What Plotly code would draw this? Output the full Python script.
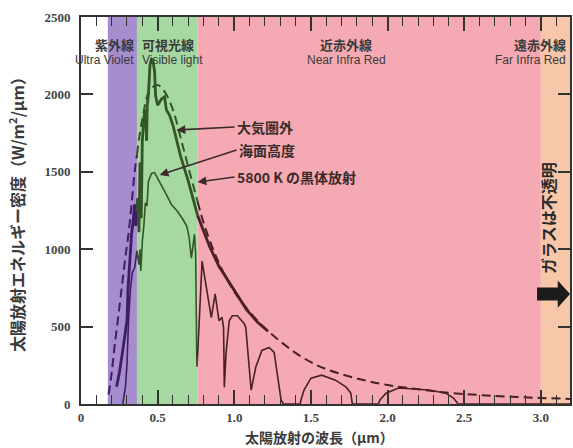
import plotly.graph_objects as go

# ---------------- data ----------------
# wavelength in micrometres, spectral irradiance in W/m2/um
bb_wl = [0.18, 0.20, 0.22, 0.25, 0.286, 0.31, 0.33, 0.35, 0.365, 0.40, 0.45, 0.50,
         0.55, 0.60, 0.65, 0.70, 0.76, 0.80, 0.85, 0.90, 0.95, 1.00, 1.10, 1.20,
         1.30, 1.40, 1.50, 1.60, 1.80, 2.00, 2.20, 2.40, 2.60, 2.80, 3.00, 3.19]
bb_val = [60, 200, 380, 620, 920, 1100, 1290, 1500, 1610, 1840, 2030, 2060,
          2010, 1900, 1720, 1530, 1310, 1170, 1030, 910, 810, 725, 595, 490,
          405, 330, 270, 225, 165, 123, 95, 72, 58, 47, 39, 33]

space_wl = [0.232, 0.25, 0.27, 0.29, 0.30, 0.307, 0.32, 0.33, 0.34, 0.35, 0.357, 0.365,
            0.37, 0.378, 0.385, 0.393, 0.40, 0.41, 0.42, 0.428, 0.432, 0.44, 0.45,
            0.46, 0.47, 0.48, 0.487, 0.50, 0.51, 0.525, 0.545, 0.557, 0.578, 0.60,
            0.65, 0.70, 0.76, 0.80, 0.84, 0.90, 0.97, 1.00, 1.08, 1.15, 1.22]
space_val = [111, 200, 330, 470, 540, 750, 970, 1100, 1180, 1290, 1150, 1250,
             1330, 1110, 1560, 1200, 1700, 1850, 1900, 1700, 1930, 2000, 2190,
             2230, 2215, 2150, 1990, 1930, 1950, 1970, 1985, 1900, 1865, 1800,
             1600, 1440, 1220, 1110, 1014, 890, 782, 740, 610, 530, 470]

sea_wl = [0.272, 0.29, 0.30, 0.31, 0.323, 0.335, 0.35, 0.365, 0.378, 0.385, 0.39, 0.40,
          0.41, 0.42, 0.43, 0.44, 0.46, 0.48, 0.50, 0.525, 0.557, 0.59, 0.63, 0.66,
          0.69, 0.705, 0.72, 0.74, 0.748, 0.756, 0.76, 0.79, 0.85, 0.875, 0.90,
          0.92, 0.93, 0.935, 0.946, 0.967, 0.987, 1.02, 1.065, 1.075, 1.11, 1.14,
          1.18, 1.227, 1.26, 1.28, 1.305, 1.32, 1.43, 1.435, 1.455, 1.50, 1.57,
          1.66, 1.73, 1.76, 1.77, 1.94, 1.95, 1.99, 2.07, 2.27, 2.38, 2.43, 2.46, 3.19]
sea_val = [0, 110, 260, 540, 750, 850, 880, 990, 900, 1000, 860, 1050,
           1150, 1300, 1280, 1440, 1490, 1495, 1460, 1416, 1352, 1288, 1244, 1200,
           1150, 1080, 942, 1096, 968, 240, 300, 923, 558, 712, 538,
           560, 494, 109, 327, 538, 570, 570, 519, 494, 90, 237,
           346, 365, 333, 199, 26, 0, 0, 26, 90, 167, 186,
           154, 109, 70, 0, 0, 26, 70, 103, 90, 70, 38, 0, 0]

# spectral bands (um)
band_start = [0.175, 0.365, 0.76, 3.0]
band_end = [0.365, 0.76, 3.0, 3.19]
band_fill = ["#a68dce", "#a6d8a1", "#f5aab3", "#f8c7aa"]
band_line = ["#3f1c66", "#34552a", "#4a1f27", "#4a1f27"]

band_jp = ["紫外線", "可視光線", "近赤外線", "遠赤外線"]
band_en = ["Ultra Violet", "Visible light", "Near Infra Red", "Far Infra Red"]

x_ticks = [0, 0.5, 1.0, 1.5, 2.0, 2.5, 3.0]
x_tick_text = ["0", "0.5", "1.0", "1.5", "2.0", "2.5", "3.0"]
y_ticks = [0, 500, 1000, 1500, 2000, 2500]

fig = go.Figure()

# background bands
for s, e, c in zip(band_start, band_end, band_fill):
    fig.add_shape(type="rect", xref="x", yref="paper", x0=s, x1=e, y0=0, y1=1,
                  fillcolor=c, line_width=0, layer="below")


def add_curve(xs, ys, width, dash=None, shape="linear"):
    for i in range(3):
        lo = band_start[i] if i > 0 else -1
        hi = band_end[i] if i < 2 else 99
        sx = [x for x in xs if lo <= x <= hi]
        sy = [y for x, y in zip(xs, ys) if lo <= x <= hi]
        if len(sx) < 2:
            continue
        fig.add_trace(go.Scatter(x=sx, y=sy, mode="lines", hoverinfo="skip",
                                 line=dict(color=band_line[i], width=width,
                                           dash=dash, shape=shape),
                                 showlegend=False))


add_curve(bb_wl, bb_val, 2.0, dash="9px,5px", shape="spline")
add_curve(sea_wl, sea_val, 1.6)
add_curve(space_wl, space_val, 2.8)

# opaque-glass arrow (black block arrow)
fig.add_shape(type="path", xref="x", yref="y",
              path="M 2.975,668 L 3.11,668 L 3.11,622 L 3.19,710 L 3.11,798 L 3.11,752 L 2.975,752 Z",
              fillcolor="#1c1c1c", line_width=0)

cjk = "Noto Sans CJK JP"
txt = "#3a3a3a"
narrow = "Liberation Sans Narrow, Arial Narrow, Liberation Sans"

# band labels
lab_pos = [(0.357, "right"), (0.383, "left"), (1.73, "center"), (3.175, "right")]
for (xp, anc), jp, en in zip(lab_pos, band_jp, band_en):
    fig.add_annotation(x=xp, y=0.928, xref="x", yref="paper", text=jp, showarrow=False,
                       xanchor=anc, yanchor="middle",
                       font=dict(family=cjk, size=13, color=txt, weight="bold"))
    fig.add_annotation(x=xp, y=0.89, xref="x", yref="paper", text=en, showarrow=False,
                       xanchor=anc, yanchor="middle",
                       font=dict(family=narrow, size=12, color=txt))

# curve labels with arrows
arr = "#3b2b2b"
for text, hx, hy, ax, ay in [("大気圏外", 0.623, 1770, 58, -3),
                             ("海面高度", 0.513, 1479, 77, -25),
                             ("5800 K の黒体放射", 0.76, 1434, 37, -5)]:
    fig.add_annotation(x=hx, y=hy, xref="x", yref="y", text=text, showarrow=True,
                       ax=ax, ay=ay, axref="pixel", ayref="pixel",
                       xanchor="left", yanchor="middle",
                       arrowhead=2, arrowsize=1.1, arrowwidth=1.6, arrowcolor=arr,
                       font=dict(family=cjk, size=14, color=arr, weight="bold"))

fig.add_annotation(x=3.045, y=1200, xref="x", yref="y", text="ガラスは不透明",
                   showarrow=False, textangle=-90,
                   font=dict(family=cjk, size=16, color="#2a2a2a", weight="bold"))

# axis titles
fig.add_annotation(x=0.487, y=-0.084, xref="paper", yref="paper",
                   xanchor="center", yanchor="middle", borderpad=0,
                   text="太陽放射の波長（μm）", showarrow=False,
                   font=dict(family=cjk, size=14, color=txt, weight="bold"))
fig.add_annotation(x=-0.132, y=0.5, xref="paper", yref="paper",
                   xanchor="center", yanchor="middle",
                   text="太陽放射エネルギー密度（W/m<sup>2</sup>/μm）", showarrow=False,
                   textangle=-90,
                   font=dict(family=cjk, size=16, color=txt, weight="bold"))

tickfont = dict(family="Liberation Serif", size=13, color="#444444", weight="bold")
fig.update_layout(
    xaxis=dict(range=[0, 3.19], tickvals=x_ticks, ticktext=x_tick_text,
               ticks="inside", ticklen=14, tickwidth=1.5, tickcolor="#333333",
               minor=dict(ticks="inside", dtick=0.1, ticklen=9, tickwidth=1.2,
                          tickcolor="#333333"),
               showline=True, linecolor="#333333", linewidth=1.8, mirror="allticks",
               showgrid=False, zeroline=False, tickfont=tickfont),
    yaxis=dict(range=[0, 2500], tickvals=y_ticks,
               ticks="inside", ticklen=12, tickwidth=1.5, tickcolor="#333333",
               showline=True, linecolor="#333333", linewidth=1.8, mirror="allticks",
               showgrid=False, zeroline=False, tickfont=tickfont,
               ticklabelstandoff=6),
    width=573, height=448, margin=dict(l=81, r=1, t=17, b=44),
    plot_bgcolor="white", paper_bgcolor="white", showlegend=False)

fig.write_html("out.html")
